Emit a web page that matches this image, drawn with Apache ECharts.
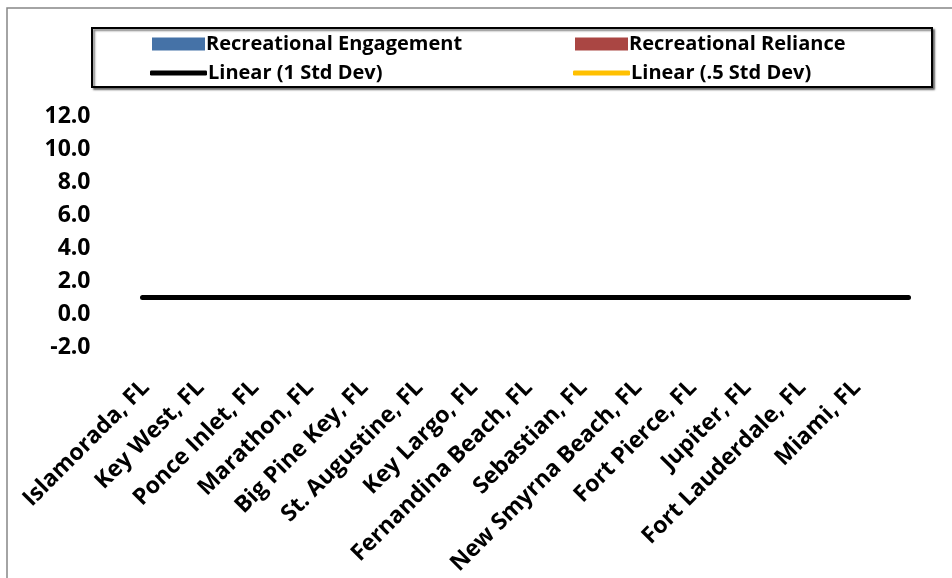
<!DOCTYPE html>
<html>
<head>
<meta charset="utf-8">
<script src="https://cdn.jsdelivr.net/npm/echarts@6/dist/echarts.min.js"></script>
<style>
  html, body { margin: 0; padding: 0; background: #fff; }
  #chart { width: 952px; height: 578px; }
</style>
</head>
<body>
<div id="chart"></div>
<script>
// ===== 数据 =====
const cities = ['Islamorada, FL', 'Key West, FL', 'Ponce Inlet, FL', 'Marathon, FL', 'Big Pine Key, FL',
  'St. Augustine, FL', 'Key Largo, FL', 'Fernandina Beach, FL', 'Sebastian, FL', 'New Smyrna Beach, FL',
  'Fort Pierce, FL', 'Jupiter, FL', 'Fort Lauderdale, FL', 'Miami, FL'];
const engagement = [0, 0, 0, 0, 0, 0, 0, 0, 0, 0, 0, 0, 0, 0];
const reliance = [0, 0, 0, 0, 0, 0, 0, 0, 0, 0, 0, 0, 0, 0];
// 趋势线：左端、右端的值（横跨整个绘图区）
const oneStdTrend = [1.0, 1.0];
const halfStdTrend = [];

const FONT = 'Open Sans';
const chart = echarts.init(document.getElementById('chart'));

const legendText = { fontFamily: FONT, fontWeight: 'bold', fontSize: 20, lineHeight: 20, color: '#000', padding: [0, 0, 0, -4] };
const mkLegend = (left, top, name, icon, w, h) => ({
  left: left, top: top, itemWidth: w, itemHeight: h, selectedMode: false,
  textStyle: legendText, data: [{ name: name, icon: icon }]
});

const trendData = arr => arr.map((v, i) => [i / (arr.length - 1), v]);

chart.setOption({
  animation: false,
  graphic: [
    { type: 'rect', shape: { x: 7, y: 8, width: 1000, height: 1000 },
      style: { fill: 'none', stroke: '#878787', lineWidth: 1.5 }, z: -1 },
    { type: 'rect', shape: { x: 92, y: 28, width: 840, height: 59 },
      style: { fill: '#fff', stroke: '#000', lineWidth: 2,
        shadowColor: 'rgba(0,0,0,0.5)', shadowOffsetX: 2, shadowOffsetY: 2, shadowBlur: 2 }, z: -1 }
  ],
  legend: [
    mkLegend(147, 29, 'Recreational Engagement', 'rect', 53, 13),
    mkLegend(570, 29, 'Recreational Reliance', 'rect', 53, 13),
    mkLegend(145, 58, 'Linear (1 Std Dev)', 'roundRect', 57, 5),
    mkLegend(568, 58, 'Linear (.5 Std Dev)', 'roundRect', 57, 5)
  ],
  grid: { left: 142.5, right: 43.5, top: 116, bottom: 231, containLabel: false },
  xAxis: [{
    type: 'category',
    data: cities,
    axisLine: { show: false },
    axisTick: { show: false },
    axisLabel: {
      rotate: 45, interval: 0, margin: 13, padding: [0, 34, 0, 0],
      fontFamily: FONT, fontWeight: 'bold', fontSize: 23, color: '#000'
    }
  }, {
    type: 'value', min: 0, max: 1, show: false
  }],
  yAxis: {
    type: 'value',
    min: -2, max: 12, interval: 2,
    axisLine: { show: false },
    axisTick: { show: false },
    splitLine: { show: false },
    axisLabel: {
      margin: 52,
      fontFamily: FONT, fontWeight: 'bold', fontSize: 23, color: '#000',
      formatter: v => v.toFixed(1)
    }
  },
  series: [
    { name: 'Recreational Engagement', type: 'bar', data: engagement, itemStyle: { color: '#4572A7' } },
    { name: 'Recreational Reliance', type: 'bar', data: reliance, itemStyle: { color: '#AA4643' } },
    { name: 'Linear (1 Std Dev)', type: 'line', xAxisIndex: 1, data: trendData(oneStdTrend), symbol: 'none',
      itemStyle: { color: '#000' }, lineStyle: { color: '#000', width: 5, cap: 'round' } },
    { name: 'Linear (.5 Std Dev)', type: 'line', xAxisIndex: 1, data: trendData(halfStdTrend), symbol: 'none',
      itemStyle: { color: '#FFC000' }, lineStyle: { color: '#FFC000', width: 5, cap: 'round' } }
  ]
});
</script>
</body>
</html>
